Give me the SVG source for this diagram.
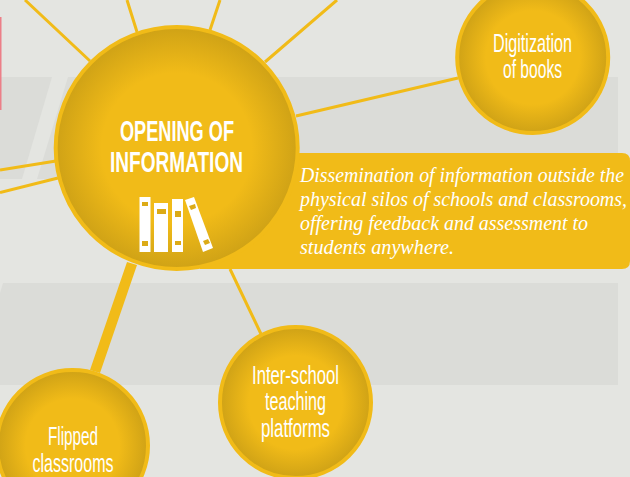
<svg xmlns="http://www.w3.org/2000/svg" width="630" height="477" viewBox="0 0 630 477">
<style>
.band{fill:#dbdcd8}
.thin{stroke:#f1bb18;stroke-width:3;fill:none}
.disc{stroke:#f1bb18;stroke-width:4}
.lab{font-family:"Liberation Sans",Arial,sans-serif;fill:#fff;text-anchor:middle;font-size:25px}
.head{font-family:"Liberation Sans",Arial,sans-serif;fill:#fff;font-weight:700;font-size:29px}
.sub{font-family:"Liberation Serif","Times New Roman",serif;font-style:italic;fill:#fff;font-size:20px}
.bk{fill:#fff}.tag{fill:#dcab17}
</style>
<defs>
<radialGradient id="g"><stop offset="0" stop-color="#f1bb18"/><stop offset="0.62" stop-color="#f1bb18"/><stop offset="1" stop-color="#cfa216"/></radialGradient>
</defs>
<rect width="630" height="477" fill="#e4e5e1"/>
<g id="bands">
<path class="band" d="M0 77H52L22 179H0Z"/>
<path class="band" d="M68 77H618V179H37Z"/>
<path class="band" d="M3 283H618V385H0V293Z"/>
<rect x="0" y="17" width="1.5" height="93" fill="#ec7f88"/>
</g>
<g id="connectors">
<path class="thin" d="M25 0L90 61M127 0L137 32M220 0L210 30M337 0L265 62M296 116L458 78M0 170L56 161M0 192.5L58 178M230 269L261 334"/>
<path d="M127 262L137 265L100 373L90 370Z" fill="#f1bb18"/>
</g>
<g id="callout">
<path d="M200 153H622Q630 153 630 161V261Q630 269 622 269H200Z" fill="#f1bb18"/>
<text class="sub" x="300" y="182" textLength="324" lengthAdjust="spacingAndGlyphs">Dissemination of information outside the</text>
<text class="sub" x="300" y="206" textLength="327" lengthAdjust="spacingAndGlyphs">physical silos of schools and classrooms,</text>
<text class="sub" x="300" y="230" textLength="288" lengthAdjust="spacingAndGlyphs">offering feedback and assessment to</text>
<text class="sub" x="300" y="254" textLength="154" lengthAdjust="spacingAndGlyphs">students anywhere.</text>
</g>
<g id="opening-of-information">
<circle class="disc" cx="176.7" cy="148" r="121" fill="url(#g)"/>
<text class="head" x="120" y="141" textLength="114" lengthAdjust="spacingAndGlyphs">OPENING OF</text>
<text class="head" x="110" y="172" textLength="133" lengthAdjust="spacingAndGlyphs">INFORMATION</text>
<rect class="bk" x="139.5" y="197" width="11" height="55"/>
<rect class="bk" x="154" y="203" width="14" height="49"/>
<rect class="bk" x="172" y="199" width="11" height="53"/>
<path class="bk" d="M185 200L194 197L213 248L203 252Z"/>
<rect class="tag" x="142" y="202" width="6" height="4"/>
<rect class="tag" x="157" y="209" width="9" height="5"/>
<rect class="tag" x="175" y="211" width="6" height="6"/>
<path class="tag" d="M189 206L195 204L196 208L191 210Z"/>
<rect class="tag" x="142" y="241" width="6" height="5"/>
<rect class="tag" x="175" y="241" width="6" height="4"/>
<path class="tag" d="M203 241L208 239L210 243L205 245Z"/>
</g>
<g id="digitization-of-books">
<circle class="disc" cx="532.7" cy="57.5" r="75.5" fill="url(#g)"/>
<text class="lab" x="532.5" y="52" textLength="79" lengthAdjust="spacingAndGlyphs">Digitization</text>
<text class="lab" x="532.5" y="78" textLength="59" lengthAdjust="spacingAndGlyphs">of books</text>
</g>
<g id="inter-school-teaching-platforms">
<circle class="disc" cx="295.5" cy="402.5" r="75.5" fill="url(#g)"/>
<text class="lab" x="295.5" y="384" textLength="87" lengthAdjust="spacingAndGlyphs">Inter-school</text>
<text class="lab" x="295.5" y="410" textLength="61" lengthAdjust="spacingAndGlyphs">teaching</text>
<text class="lab" x="295.5" y="437" textLength="69" lengthAdjust="spacingAndGlyphs">platforms</text>
</g>
<g id="flipped-classrooms">
<circle class="disc" cx="72.5" cy="445.5" r="75.5" fill="url(#g)"/>
<text class="lab" x="73" y="445" textLength="50" lengthAdjust="spacingAndGlyphs">Flipped</text>
<text class="lab" x="73" y="472" textLength="81" lengthAdjust="spacingAndGlyphs">classrooms</text>
</g>
</svg>
